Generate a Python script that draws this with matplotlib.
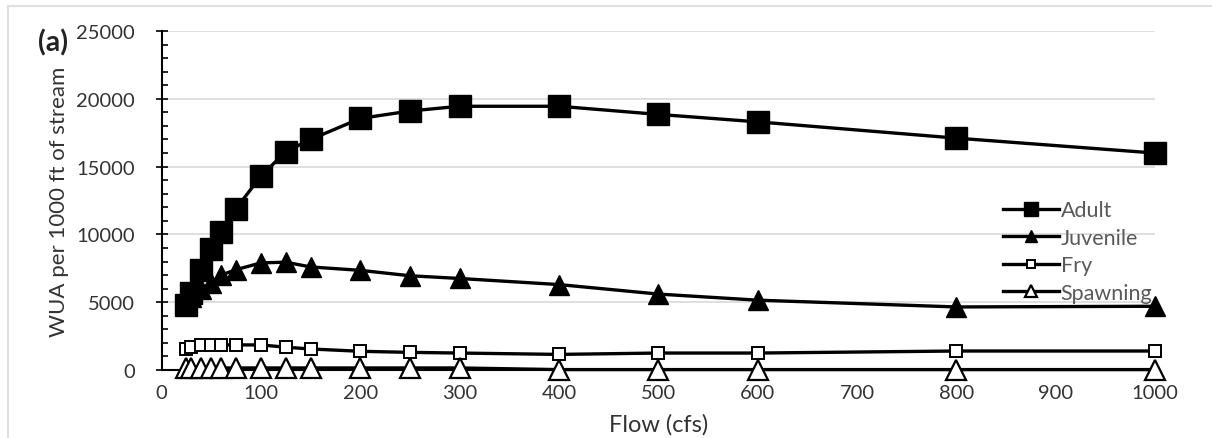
import numpy as np
import matplotlib.pyplot as plt
from matplotlib.ticker import MultipleLocator
from matplotlib.patches import Rectangle

# =========================
# Data
# =========================

flow = [25, 30, 40, 50, 60, 75, 100, 125, 150, 200, 250, 300, 400, 500, 600, 800, 1000]

adult = [4800, 5700, 7400, 8900, 10200, 11900, 14300, 16100, 17000, 18550,
         19100, 19450, 19450, 18850, 18300, 17100, 16000]
juvenile = [4800, 5400, 6000, 6400, 7000, 7400, 7900, 7950, 7600, 7350,
            6950, 6750, 6300, 5600, 5150, 4650, 4700]
fry = [1550, 1700, 1850, 1850, 1850, 1850, 1850, 1680, 1550, 1380,
       1300, 1250, 1150, 1250, 1250, 1400, 1400]
spawning = [150, 150, 150, 150, 150, 150, 150, 150, 150, 150,
            150, 150, 30, 30, 30, 30, 30]

# =========================
# Plot
# =========================

plt.rcParams["font.family"] = ["Lato", "DejaVu Sans"]

fig = plt.figure(figsize=(12.12, 4.39), dpi=100)
ax = fig.add_axes([0.1333, 0.1549, 0.8197, 0.7722])

# light frame round the figure
fig.patches.append(Rectangle((0.007, -0.1), 1.1, 1.084, transform=fig.transFigure,
                             fill=False, edgecolor="#e0e0e0", linewidth=1.5))

lw = 2.4
ax.plot(flow, adult, "-s", color="black", lw=lw, ms=15.5, mfc="black",
        mec="black", label="Adult", zorder=5, clip_on=False)
ax.plot(flow, juvenile, "-^", color="black", lw=lw, ms=14, mfc="black",
        mec="black", label="Juvenile", zorder=4, clip_on=False)
ax.plot(flow, fry, "-s", color="black", lw=lw, ms=9, mfc="white",
        mec="black", mew=1.4, label="Fry", zorder=3, clip_on=False)
ax.plot(flow, spawning, "-^", color="black", lw=lw, ms=14, mfc="white",
        mec="black", mew=1.6, label="Spawning", zorder=3, clip_on=False)

ax.set_xlim(0, 1000)
ax.set_ylim(0, 25000)
ax.xaxis.set_major_locator(MultipleLocator(100))
ax.yaxis.set_major_locator(MultipleLocator(5000))
ax.yaxis.set_minor_locator(MultipleLocator(1000))

ax.grid(axis="y", color="#d9d9d9", linewidth=1.2, zorder=0)
ax.set_axisbelow(True)

for s in ["top", "right"]:
    ax.spines[s].set_visible(False)
ax.spines["left"].set_linewidth(1.5)
ax.spines["bottom"].set_linewidth(1.5)

ax.tick_params(axis="x", length=0, labelsize=14.5, colors="#333333", pad=10)
ax.tick_params(axis="y", which="major", direction="inout", length=8,
               width=1.2, labelsize=14.5, labelcolor="#333333", pad=15)
ax.tick_params(axis="y", which="minor", direction="in", length=4, width=1.2)

ax.set_xlabel("Flow (cfs)", fontsize=17, color="#333333", labelpad=9)
ax.set_ylabel("WUA per 1000 ft of stream", fontsize=16, color="#333333",
              labelpad=5)

fig.text(0.031, 0.882, "(a)", fontsize=20.5, fontweight="bold", color="#222222")

leg = ax.legend(loc="center left", bbox_to_anchor=(0.827, 0.35), frameon=False,
                fontsize=15.5, handlelength=2.6, handletextpad=0.1,
                labelspacing=0.35, markerscale=0.65)
for t in leg.get_texts():
    t.set_color("#595959")

plt.savefig("out.png", dpi=100)
